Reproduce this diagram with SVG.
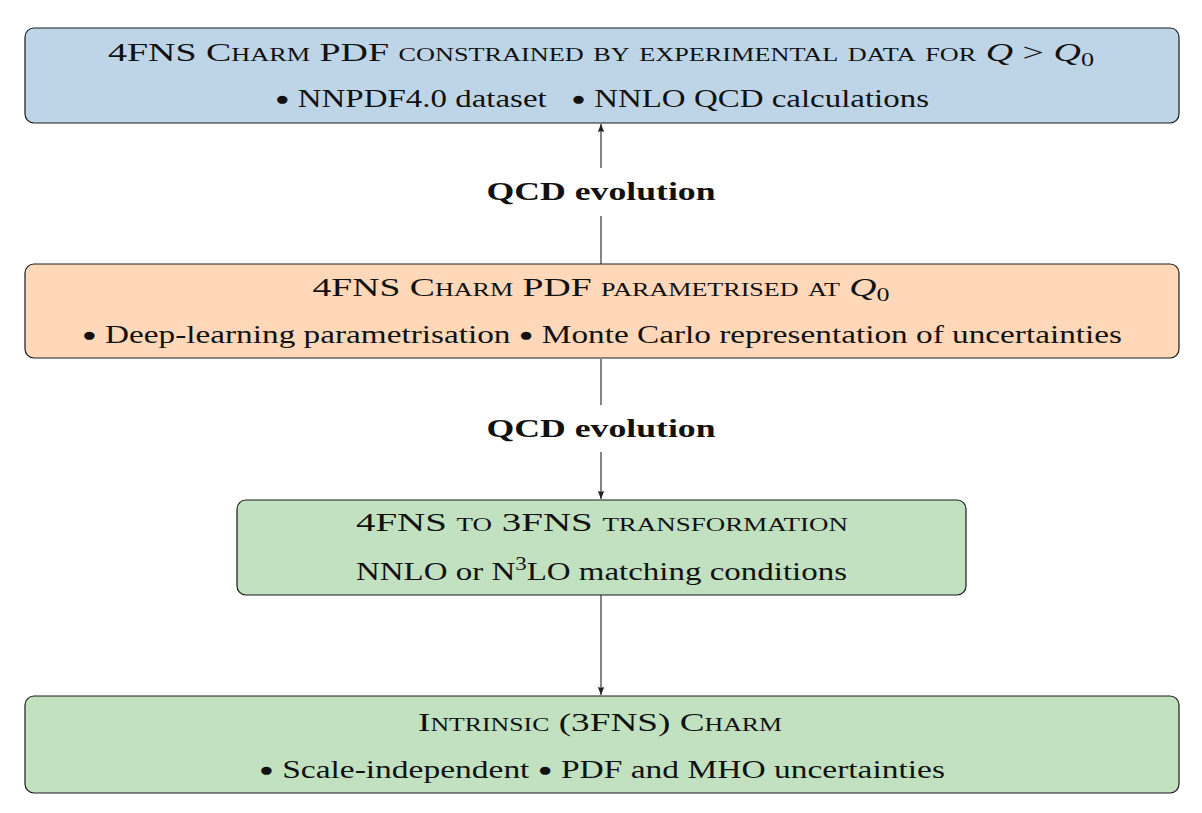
<svg xmlns="http://www.w3.org/2000/svg" width="1202" height="813" viewBox="0 0 1202 813">
<style>
.box{stroke:#1a1a1a;stroke-width:1.2}
.t{font-family:"Liberation Serif","Times New Roman",serif;font-size:26px;fill:#111;text-anchor:middle}
.sc{font-variant:small-caps}
.it{font-style:italic}
.b{font-size:19px}
.lbl{font-family:"Liberation Serif","Times New Roman",serif;font-size:26px;font-weight:bold;fill:#111;text-anchor:middle}
.conn{stroke:#222;stroke-width:1.1;fill:none}
</style>
<defs>
<marker id="ah" viewBox="0 0 10 10" refX="10" refY="5" markerWidth="8" markerHeight="8" markerUnits="userSpaceOnUse" orient="auto">
<path d="M0,1 L10,5 L0,9 Q2,5 0,1 Z" fill="#222"/>
</marker>
</defs>
<rect width="1202" height="813" fill="#fff"/>
<g id="connectors">
<path class="conn" d="M601,264 V216"/>
<path class="conn" d="M601,168 V124" marker-end="url(#ah)"/>
<path class="conn" d="M601,359 V405"/>
<path class="conn" d="M601,452 V499" marker-end="url(#ah)"/>
<path class="conn" d="M601,595 V695" marker-end="url(#ah)"/>
<text class="lbl" x="601" y="200" textLength="229" lengthAdjust="spacingAndGlyphs">QCD evolution</text>
<text class="lbl" x="601" y="437" textLength="229" lengthAdjust="spacingAndGlyphs">QCD evolution</text>
</g>
<g id="node-constrained">
<rect class="box" x="25" y="28" width="1154" height="95" rx="9" fill="#bed5e7"/>
<text class="t" x="601" y="61" textLength="986" lengthAdjust="spacingAndGlyphs"><tspan class="sc">4FNS Charm PDF constrained by experimental data for </tspan><tspan class="it">Q</tspan> &gt; <tspan class="it">Q</tspan><tspan font-size="18" dy="5">0</tspan></text>
<text class="t" x="602" y="107" textLength="654" lengthAdjust="spacingAndGlyphs" xml:space="preserve"><tspan class="b" dy="-2">●</tspan><tspan dy="2"> NNPDF4.0 dataset   </tspan><tspan class="b" dy="-2">●</tspan><tspan dy="2"> NNLO QCD calculations</tspan></text>
</g>
<g id="node-parametrised">
<rect class="box" x="25" y="264" width="1154" height="94" rx="9" fill="#fed8b8"/>
<text class="t" x="601" y="296" textLength="577" lengthAdjust="spacingAndGlyphs"><tspan class="sc">4FNS Charm PDF parametrised at </tspan><tspan class="it">Q</tspan><tspan font-size="18" dy="5">0</tspan></text>
<text class="t" x="602" y="343" textLength="1040" lengthAdjust="spacingAndGlyphs"><tspan class="b" dy="-2">●</tspan><tspan dy="2"> Deep-learning parametrisation </tspan><tspan class="b" dy="-2">●</tspan><tspan dy="2"> Monte Carlo representation of uncertainties</tspan></text>
</g>
<g id="node-transformation">
<rect class="box" x="237" y="500" width="729" height="95" rx="9" fill="#c1e1c1"/>
<text class="t sc" x="602" y="531" textLength="492" lengthAdjust="spacingAndGlyphs">4FNS to 3FNS transformation</text>
<text class="t" x="601.5" y="580" textLength="491" lengthAdjust="spacingAndGlyphs">NNLO or N<tspan font-size="18" dy="-10">3</tspan><tspan dy="10">LO matching conditions</tspan></text>
</g>
<g id="node-intrinsic">
<rect class="box" x="25" y="696" width="1154" height="97" rx="9" fill="#c1e1c1"/>
<text class="t sc" x="600" y="731" textLength="364" lengthAdjust="spacingAndGlyphs">Intrinsic (3FNS) Charm</text>
<text class="t" x="602" y="778" textLength="686" lengthAdjust="spacingAndGlyphs"><tspan class="b" dy="-2">●</tspan><tspan dy="2"> Scale-independent </tspan><tspan class="b" dy="-2">●</tspan><tspan dy="2"> PDF and MHO uncertainties</tspan></text>
</g>
</svg>
